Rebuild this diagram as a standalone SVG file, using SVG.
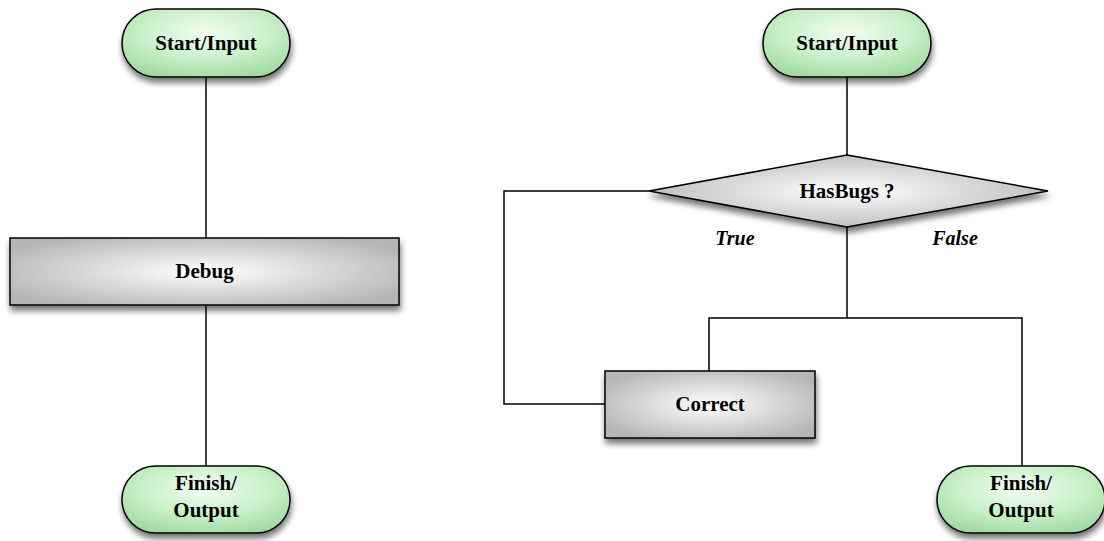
<svg xmlns="http://www.w3.org/2000/svg" width="1104" height="541" viewBox="0 0 1104 541">
<defs>
<radialGradient id="gGreen" cx="50%" cy="35%" r="70%">
<stop offset="0" stop-color="#f2fdf2"/>
<stop offset="0.55" stop-color="#c9f0c9"/>
<stop offset="1" stop-color="#9fd99f"/>
</radialGradient>
<radialGradient id="gGray" cx="50%" cy="50%" r="60%">
<stop offset="0" stop-color="#ffffff"/>
<stop offset="1" stop-color="#b5b5b5"/>
</radialGradient>
<filter id="sh" x="-10%" y="-20%" width="125%" height="160%">
<feGaussianBlur in="SourceAlpha" stdDeviation="3"/>
<feOffset dx="1" dy="5" result="b"/>
<feComponentTransfer><feFuncA type="linear" slope="0.55"/></feComponentTransfer>
<feMerge><feMergeNode/><feMergeNode in="SourceGraphic"/></feMerge>
</filter>
</defs>
<style>
.term{fill:url(#gGreen);stroke:#000;stroke-width:1.5;filter:url(#sh)}
.proc{fill:url(#gGray);stroke:#000;stroke-width:1.5;filter:url(#sh)}
.lbl{font-family:"Liberation Serif","Times New Roman",serif;font-weight:bold;font-size:21px;fill:#000;text-anchor:middle}
.it{font-style:italic;font-size:20px}
.conn{fill:none;stroke:#000;stroke-width:1.5}
</style>
<rect width="1104" height="541" fill="#fff"/>
<g id="connectors">
<path class="conn" d="M206 77V238"/>
<path class="conn" d="M206 305V466"/>
<path class="conn" d="M847 77V155"/>
<path class="conn" d="M847 227V318"/>
<path class="conn" d="M709 371V318H1022V466"/>
<path class="conn" d="M649 191H504V404H605"/>
</g>
<g id="start1">
<rect class="term" x="122" y="9" width="168" height="68" rx="34"/>
<text class="lbl" x="206" y="50">Start/Input</text>
</g>
<g id="debug">
<rect class="proc" x="10" y="238" width="389" height="67"/>
<text class="lbl" x="204.5" y="278">Debug</text>
</g>
<g id="finish1">
<rect class="term" x="122" y="466" width="168" height="67" rx="33.5"/>
<text class="lbl" x="206" y="490">Finish/</text>
<text class="lbl" x="206" y="517">Output</text>
</g>
<g id="start2">
<rect class="term" x="763" y="9" width="168" height="68" rx="34"/>
<text class="lbl" x="847" y="50">Start/Input</text>
</g>
<g id="hasbugs">
<polygon class="proc" points="847,155 1048,191 847,227 649,191"/>
<text class="lbl" x="847" y="198">HasBugs ?</text>
</g>
<g id="labels">
<text class="lbl it" x="735" y="245">True</text>
<text class="lbl it" x="955" y="245">False</text>
</g>
<g id="correct">
<rect class="proc" x="605" y="371" width="210" height="67"/>
<text class="lbl" x="710" y="411">Correct</text>
</g>
<g id="finish2">
<rect class="term" x="937" y="466" width="168" height="67" rx="33.5"/>
<text class="lbl" x="1021" y="490">Finish/</text>
<text class="lbl" x="1021" y="517">Output</text>
</g>
</svg>
